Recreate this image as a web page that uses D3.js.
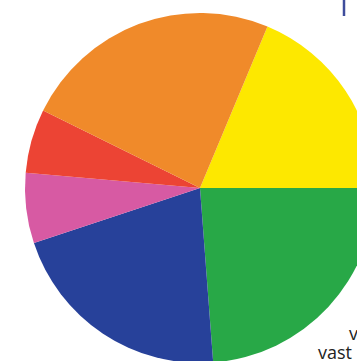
<!DOCTYPE html>
<html>
<head>
<meta charset="utf-8">
<script src="https://cdn.jsdelivr.net/npm/d3@7.9.0/dist/d3.min.js"></script>
<style>
  body { margin: 0; background: #fff; }
  svg { display: block; }
  text { font-family: "Open Sans", sans-serif; fill: #222; }
</style>
</head>
<body>
<svg id="chart" width="357" height="361"></svg>
<script>
// slices, clockwise starting at the yellow one
const categories = ["yellow", "green", "blue", "pink", "red", "orange"];
const values = [18.7, 23.8, 21.1, 6.5, 5.9, 24.0];
const colors = ["#fde800", "#28a847", "#27419a", "#d75aa3", "#ec4434", "#f08a2a"];

const svg = d3.select("#chart");
const cx = 200, cy = 188, r = 175;

const data = categories.map((c, i) => ({ label: c, value: values[i] }));
const total = d3.sum(values);

// yellow ends at 3 o'clock, so start is pushed back by its share
const start = Math.PI / 2 - (values[0] / total) * 2 * Math.PI;

const pie = d3.pie()
  .sort(null)
  .value((d) => d.value)
  .startAngle(start)
  .endAngle(start + 2 * Math.PI);

const arc = d3.arc().innerRadius(0).outerRadius(r);

const g = svg.append("g").attr("transform", `translate(${cx},${cy})`);

g.selectAll("path")
  .data(pie(data))
  .join("path")
  .attr("d", arc)
  .attr("fill", (d, i) => colors[i]);

// bits of the surrounding page text
svg.append("line")
  .attr("x1", 344).attr("x2", 344)
  .attr("y1", 0).attr("y2", 16)
  .attr("stroke", "#3f4d9c")
  .attr("stroke-width", 2.5);

svg.append("text").attr("x", 349).attr("y", 340).attr("font-size", 18).text("v");
svg.append("text").attr("x", 318).attr("y", 359).attr("font-size", 18).text("vast");
</script>
</body>
</html>
